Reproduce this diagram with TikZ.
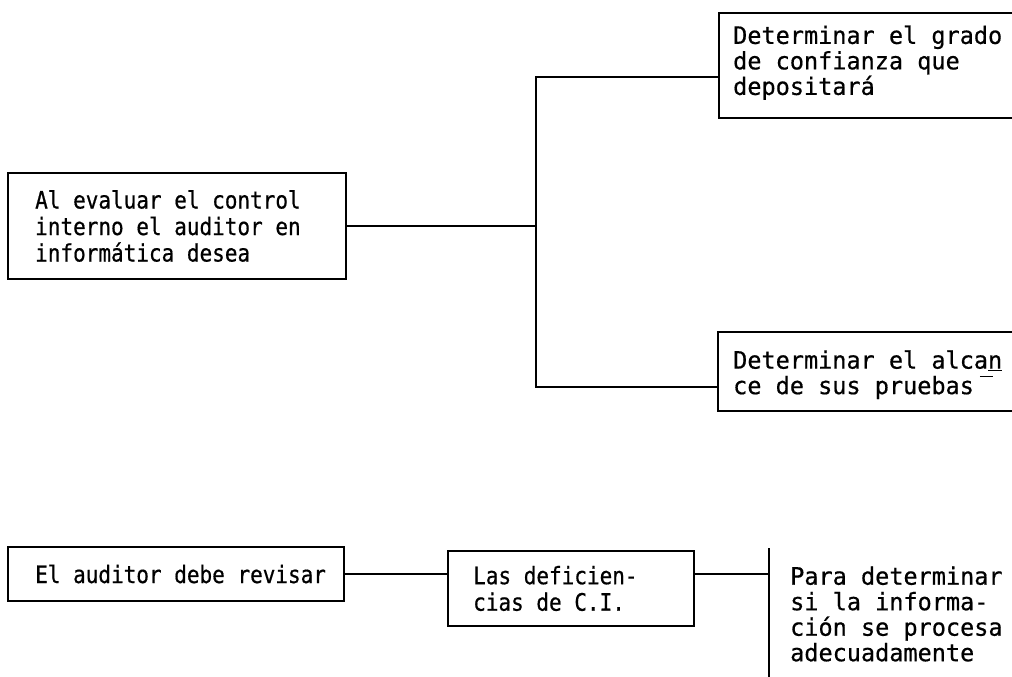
\documentclass[tikz,border=0pt]{standalone}
\usepackage{fontspec}
% typewriter face: a narrow cut for the left column, a full-width cut for the right
\newfontface\twnarrow{DejaVu Sans Mono}[FakeBold=0.6, FakeStretch=0.875]
\newfontface\twwide{DejaVu Sans Mono}[FakeBold=0.6, FakeStretch=0.98]
\begin{document}
\begin{tikzpicture}[x=1pt,y=-1pt,
  box/.style={draw, line width=2pt, inner sep=0pt, anchor=north west},
  openbox/.style={inner sep=0pt, anchor=north west},
  txt/.style={font=\twnarrow\fontsize{24}{26.5}\selectfont, align=left, inner sep=0pt, anchor=west},
  widetxt/.style={txt, font=\twwide\fontsize{24}{25.5}\selectfont},
  wire/.style={line width=2pt}]
\useasboundingbox[fill=white] (0,0) rectangle (1012,677);

% --- upper group: evaluation of internal control ---
\node[box, minimum width=338pt, minimum height=106pt] (lbox) at (7,172) {};
\node[txt] (lboxt) at ([xshift=28pt]lbox.west) {Al evaluar el control\\interno el auditor en\\informática desea};

\node[openbox, minimum width=293pt, minimum height=105pt] (t1) at (719,13) {};
\draw[wire] (t1.north east) -- (t1.north west) -- (t1.south west) -- (t1.south east);
\node[widetxt] (t1t) at ([xshift=14pt,yshift=3pt]t1.west) {Determinar el grado\\de confianza que\\depositará};

\node[openbox, minimum width=294pt, minimum height=79pt] (t2) at (718,332) {};
\draw[wire] (t2.north east) -- (t2.north west) -- (t2.south west) -- (t2.south east);
\node[widetxt] (t2t) at ([xshift=15pt,yshift=-3pt]t2.west) {Determinar el alca\underline{n}\\ce de sus pruebas\rlap{\kern0.25em\raisebox{1.3ex}{\rule{0.55em}{1.3pt}}}};

% bracket joining the three boxes
\coordinate (brtop) at (536,77);
\coordinate (brbot) at (536,387);
\draw[wire] (lbox.east) -- (lbox.east -| brtop);
\draw[wire] (t1.west |- brtop) -- (brtop) -- (brbot) -- (t2.west |- brbot);

% --- lower group: review chain ---
\node[box, minimum width=336pt, minimum height=54pt] (abox) at (7,546) {};
\node[txt] (aboxt) at ([xshift=28pt]abox.west) {El auditor debe revisar};

\node[box, minimum width=246pt, minimum height=75pt] (bbox) at (447,550) {};
\node[txt] (bboxt) at ([xshift=26pt]bbox.west) {Las deficien-\\cias de C.I.};

\node[openbox, minimum width=243pt, minimum height=129pt] (cbox) at (769,548) {};
\draw[wire] (cbox.north west) -- (cbox.south west);
\node[widetxt] (cboxt) at (790,614) {Para determinar\\si la informa-\\ción se procesa\\adecuadamente};

\draw[wire] (abox.east) -- (abox.east -| bbox.west);
\draw[wire] (bbox.east |- abox.east) -- (cbox.west |- abox.east);
\end{tikzpicture}
\end{document}
